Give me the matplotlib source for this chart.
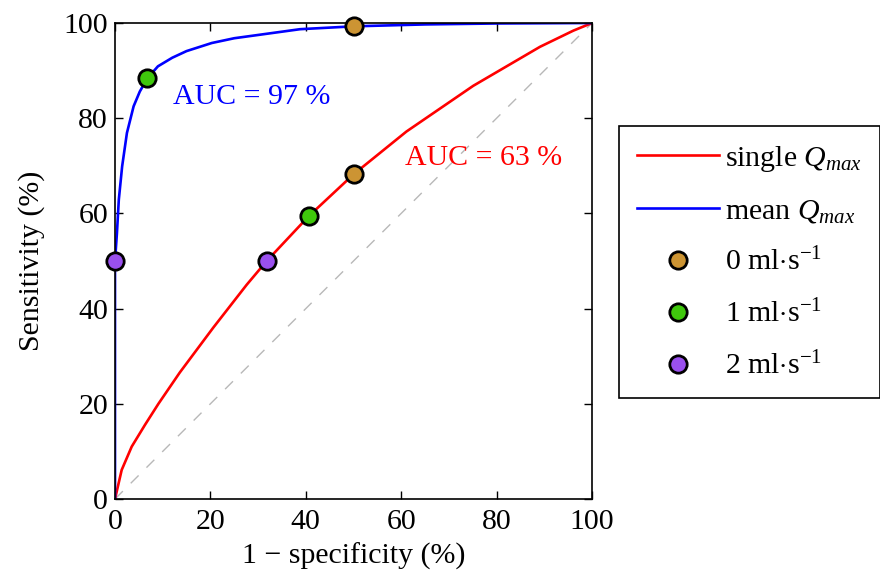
import numpy as np
import matplotlib as mpl
mpl.use("Agg")
import matplotlib.pyplot as plt

mpl.rcParams['font.family'] = ['Liberation Serif', 'DejaVu Serif']
mpl.rcParams['mathtext.fontset'] = 'custom'
mpl.rcParams['mathtext.rm'] = 'Liberation Serif'
mpl.rcParams['mathtext.it'] = 'Liberation Serif:italic'
mpl.rcParams['font.size'] = 21.5

# ROC curves (1 - specificity, sensitivity), in %
single_x = [0, 1.4, 3.5, 6.3, 9.1, 13.6, 20.6, 27.6, 31.8, 40.6, 50, 61.1, 75.1, 89.1, 96.1, 100]
single_y = [0, 6.1, 11.0, 15.6, 20.0, 26.6, 36.0, 45.0, 50, 59.4, 68.2, 77.2, 86.8, 95.0, 98.4, 100]
mean_x = [0, 0, 0.4, 0.8, 1.5, 2.5, 3.9, 5.2, 6.8, 9, 12, 15, 20.3, 25, 30.1, 38.8, 50, 65, 80, 100]
mean_y = [0, 50, 55.8, 62.9, 69.9, 76.9, 82.5, 85.6, 88.4, 90.9, 92.7, 94.1, 95.8, 96.8, 97.5, 98.7, 99.3, 99.7, 99.9, 100]

# operating points for each threshold: (x, y) on single and mean curves
thr_labels = [r'0 ml$\cdot$s$^{-1}$', r'1 ml$\cdot$s$^{-1}$', r'2 ml$\cdot$s$^{-1}$']
thr_colors = ['#cc9433', '#3fc80c', '#9a50ee']
thr_single_x = [50, 40.6, 31.8]
thr_single_y = [68.2, 59.4, 50]
thr_mean_x = [50, 6.8, 0]
thr_mean_y = [99.3, 88.4, 50]

auc_single = 63
auc_mean = 97

fig = plt.figure(figsize=(8.8, 5.78), dpi=100)
ax = fig.add_axes([115 / 880, 79 / 578, 477 / 880, 476 / 578])

ax.plot([0, 100], [0, 100], color='0.72', lw=1.0, dashes=(8, 8), zorder=1)
ax.plot(single_x, single_y, color='red', lw=1.9, label=r'single $Q_{max}$', zorder=2)
ax.plot(mean_x, mean_y, color='blue', lw=1.9, label=r'mean $Q_{max}$', zorder=2)

for i in range(len(thr_labels)):
    ax.plot([thr_single_x[i], thr_mean_x[i]], [thr_single_y[i], thr_mean_y[i]], ls='none',
            marker='o', ms=12.5, mfc=thr_colors[i], mec='black', mew=2.0,
            label=thr_labels[i], zorder=3, clip_on=False)

ax.text(12.2, 84.5, 'AUC = %d %%' % auc_mean, color='blue', va='center', ha='left')
ax.text(60.8, 71.6, 'AUC = %d %%' % auc_single, color='red', va='center', ha='left')

ax.set_xlim(0, 100)
ax.set_ylim(0, 100)
ax.set_xticks(np.arange(0, 101, 20))
ax.set_yticks(np.arange(0, 101, 20))
ax.tick_params(direction='in', top=True, right=True, length=6, width=1, pad=7)
ax.tick_params(axis='y', pad=5)
for s in ax.spines.values():
    s.set_linewidth(1.2)
ax.set_xlabel('1 \u2212 specificity (%)', labelpad=6)
ax.set_ylabel('Sensitivity (%)', labelpad=13)

leg = fig.legend(loc='upper left', bbox_to_anchor=(619 / 880, 1 - 126 / 578),
                 borderaxespad=0, fancybox=False, edgecolor='black', framealpha=1,
                 handlelength=2.75, labelspacing=0.78, borderpad=0.6, handletextpad=0.2)
leg.get_frame().set_linewidth(1.2)

fig.savefig('out.png', dpi=100)
